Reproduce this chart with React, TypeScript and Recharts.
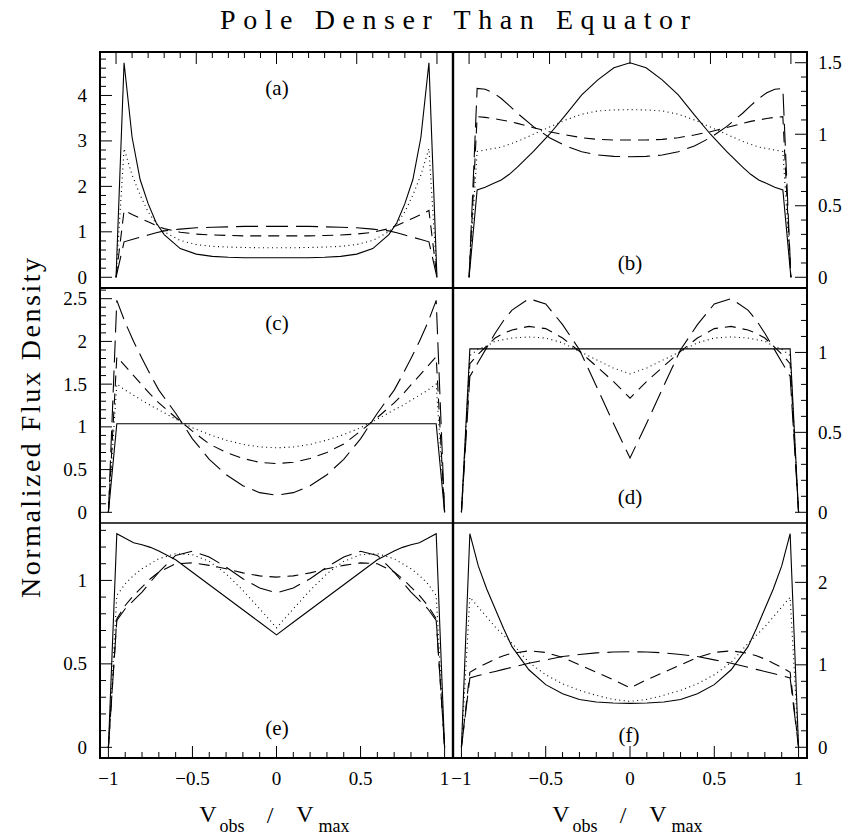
import React from "react";
import { Line, LineChart, XAxis, YAxis } from "recharts";

// velocity grid shared by every panel
const xs = [-1, -0.95, -0.9, -0.85, -0.8, -0.75, -0.7, -0.6, -0.5, -0.4, -0.3, -0.2, -0.1, 0, 0.1, 0.2, 0.3, 0.4, 0.5, 0.6, 0.7, 0.75, 0.8, 0.85, 0.9, 0.95, 1];

// (a)
const aSolid = [0, 4.72, 3.08, 2.15, 1.62, 1.2, 0.94, 0.63, 0.51, 0.46, 0.44, 0.43, 0.43, 0.43, 0.43, 0.43, 0.44, 0.46, 0.51, 0.63, 0.94, 1.2, 1.62, 2.15, 3.08, 4.72, 0];
const aDotted = [0, 2.83, 2.25, 1.81, 1.44, 1.18, 1.0, 0.81, 0.72, 0.68, 0.665, 0.655, 0.65, 0.65, 0.65, 0.655, 0.665, 0.68, 0.72, 0.81, 1.0, 1.18, 1.44, 1.81, 2.25, 2.83, 0];
const aShort = [0, 1.47, 1.38, 1.3, 1.22, 1.14, 1.07, 0.99, 0.95, 0.93, 0.92, 0.91, 0.91, 0.91, 0.91, 0.91, 0.92, 0.93, 0.95, 0.99, 1.07, 1.14, 1.22, 1.3, 1.38, 1.47, 0];
const aLong = [0, 0.78, 0.83, 0.88, 0.93, 0.98, 1.02, 1.06, 1.09, 1.1, 1.11, 1.12, 1.12, 1.12, 1.12, 1.12, 1.11, 1.1, 1.09, 1.06, 1.02, 0.98, 0.93, 0.88, 0.83, 0.78, 0];

// (b)
const bSolid = [0, 0.61, 0.63, 0.655, 0.68, 0.72, 0.77, 0.88, 1.0, 1.135, 1.275, 1.38, 1.465, 1.5, 1.465, 1.38, 1.275, 1.135, 1.0, 0.88, 0.77, 0.72, 0.68, 0.655, 0.63, 0.61, 0];
const bDotted = [0, 0.88, 0.89, 0.9, 0.91, 0.93, 0.95, 1.0, 1.05, 1.1, 1.14, 1.163, 1.17, 1.172, 1.17, 1.163, 1.14, 1.1, 1.05, 1.0, 0.95, 0.93, 0.91, 0.9, 0.89, 0.88, 0];
const bShort = [0, 1.123, 1.118, 1.11, 1.1, 1.09, 1.076, 1.046, 1.018, 0.995, 0.976, 0.964, 0.96, 0.96, 0.96, 0.964, 0.976, 0.995, 1.018, 1.046, 1.076, 1.09, 1.1, 1.11, 1.118, 1.123, 0];
const bLong = [0, 1.32, 1.315, 1.29, 1.25, 1.2, 1.147, 1.053, 0.976, 0.918, 0.878, 0.855, 0.845, 0.843, 0.845, 0.855, 0.878, 0.918, 0.976, 1.053, 1.147, 1.2, 1.25, 1.29, 1.315, 1.32, 0];

// (c)
const cSolid = [0, 1.036, 1.036, 1.036, 1.036, 1.036, 1.036, 1.036, 1.036, 1.036, 1.036, 1.036, 1.036, 1.036, 1.036, 1.036, 1.036, 1.036, 1.036, 1.036, 1.036, 1.036, 1.036, 1.036, 1.036, 1.036, 0];
const cDotted = [0, 1.5, 1.43, 1.37, 1.31, 1.25, 1.2, 1.09, 0.99, 0.91, 0.845, 0.795, 0.765, 0.755, 0.765, 0.795, 0.845, 0.91, 0.99, 1.09, 1.2, 1.25, 1.31, 1.37, 1.43, 1.5, 0];
const cShort = [0, 1.82, 1.71, 1.6, 1.49, 1.38, 1.28, 1.11, 0.95, 0.8, 0.7, 0.63, 0.585, 0.57, 0.585, 0.63, 0.7, 0.8, 0.95, 1.11, 1.28, 1.38, 1.49, 1.6, 1.71, 1.82, 0];
const cLong = [0, 2.48, 2.22, 2.0, 1.8, 1.61, 1.43, 1.16, 0.86, 0.62, 0.44, 0.31, 0.23, 0.2, 0.23, 0.31, 0.44, 0.62, 0.86, 1.16, 1.43, 1.61, 1.8, 2.0, 2.22, 2.48, 0];

// (d)
const dSolid = [0, 1.022, 1.022, 1.022, 1.022, 1.022, 1.022, 1.022, 1.022, 1.022, 1.022, 1.022, 1.022, 1.022, 1.022, 1.022, 1.022, 1.022, 1.022, 1.022, 1.022, 1.022, 1.022, 1.022, 1.022, 1.022, 0];
const dDotted = [0, 0.98, 1.02, 1.04, 1.07, 1.08, 1.09, 1.097, 1.09, 1.06, 1.007, 0.955, 0.903, 0.866, 0.903, 0.955, 1.007, 1.06, 1.09, 1.097, 1.09, 1.08, 1.07, 1.04, 1.02, 0.98, 0];
const dShort = [0, 0.93, 0.99, 1.04, 1.09, 1.12, 1.14, 1.163, 1.149, 1.09, 1.007, 0.914, 0.82, 0.714, 0.82, 0.914, 1.007, 1.09, 1.149, 1.163, 1.14, 1.12, 1.09, 1.04, 0.99, 0.93, 0];
const dLong = [0, 0.85, 0.94, 1.03, 1.12, 1.2, 1.265, 1.336, 1.303, 1.174, 1.017, 0.79, 0.56, 0.34, 0.56, 0.79, 1.017, 1.174, 1.303, 1.336, 1.265, 1.2, 1.12, 1.03, 0.94, 0.85, 0];

// (e)
const eSolid = [0, 1.28, 1.252, 1.226, 1.214, 1.198, 1.176, 1.124, 1.049, 0.974, 0.899, 0.824, 0.749, 0.674, 0.749, 0.824, 0.899, 0.974, 1.049, 1.124, 1.176, 1.198, 1.214, 1.226, 1.252, 1.28, 0];
const eDotted = [0, 0.91, 0.98, 1.03, 1.07, 1.1, 1.13, 1.16, 1.154, 1.114, 1.04, 0.94, 0.83, 0.716, 0.83, 0.94, 1.04, 1.114, 1.154, 1.16, 1.13, 1.1, 1.07, 1.03, 0.98, 0.91, 0];
const eShort = [0, 0.77, 0.85, 0.91, 0.96, 1.01, 1.05, 1.1, 1.105, 1.09, 1.07, 1.045, 1.027, 1.02, 1.027, 1.045, 1.07, 1.09, 1.105, 1.1, 1.05, 1.01, 0.96, 0.91, 0.85, 0.77, 0];
const eLong = [0, 0.76, 0.83, 0.88, 0.93, 0.99, 1.05, 1.15, 1.175, 1.14, 1.08, 1.01, 0.955, 0.925, 0.955, 1.01, 1.08, 1.14, 1.175, 1.15, 1.05, 0.99, 0.93, 0.88, 0.83, 0.76, 0];

// (f)
const fSolid = [0, 2.59, 2.2, 1.92, 1.68, 1.44, 1.22, 0.94, 0.76, 0.65, 0.58, 0.55, 0.537, 0.533, 0.537, 0.55, 0.58, 0.65, 0.76, 0.94, 1.22, 1.44, 1.68, 1.92, 2.2, 2.59, 0];
const fDotted = [0, 1.82, 1.7, 1.58, 1.46, 1.36, 1.26, 1.03, 0.88, 0.77, 0.69, 0.63, 0.58, 0.557, 0.58, 0.63, 0.69, 0.77, 0.88, 1.03, 1.26, 1.36, 1.46, 1.58, 1.7, 1.82, 0];
const fShort = [0, 0.91, 0.97, 1.02, 1.07, 1.11, 1.14, 1.17, 1.15, 1.09, 1.0, 0.91, 0.82, 0.72, 0.82, 0.91, 1.0, 1.09, 1.15, 1.17, 1.14, 1.11, 1.07, 1.02, 0.97, 0.91, 0];
const fLong = [0, 0.84, 0.87, 0.895, 0.92, 0.945, 0.97, 1.02, 1.06, 1.1, 1.125, 1.145, 1.155, 1.158, 1.155, 1.145, 1.125, 1.1, 1.06, 1.02, 0.97, 0.945, 0.92, 0.895, 0.87, 0.84, 0];

// axis ticks
const xMajor = [-1, -0.5, 0, 0.5, 1];
const xMinorStep = 0.1;
const aMajor = [0, 1, 2, 3, 4];
const bMajor = [0, 0.5, 1, 1.5];
const cMajor = [0, 0.5, 1, 1.5, 2, 2.5];
const dMajor = [0, 0.5, 1];
const eMajor = [0, 0.5, 1];
const fMajor = [0, 1, 2];

const FONT = "'Liberation Serif', 'DejaVu Serif', serif";
const COL_X = [100, 453];
const COL_W = [353, 354];
const ROW_Y = [52, 288, 523];
const ROW_H = [236, 235, 235];
const AXIS_W = 60;
const PAD = 24; // room for the "−1" label that hangs over the column seam

const lineStyles = [
  { key: "solid", dash: undefined },
  { key: "dotted", dash: "1 3.5" },
  { key: "short", dash: "11 7" },
  { key: "long", dash: "22 8" },
];

function steps(lo: number, hi: number, step: number) {
  const out: number[] = [];
  for (let v = lo; v <= hi + 1e-9; v += step) out.push(Math.round(v * 1000) / 1000);
  return out;
}

function fmt(v: number) {
  const r = Math.round(v * 100) / 100;
  return r < 0 ? "\u2212" + String(-r) : String(r);
}

const isMajor = (v: number, majors: number[]) => majors.some((m) => Math.abs(m - v) < 1e-6);

function YTick({ x = 0, y = 0, payload, side, majors }: any) {
  const v = payload.value;
  const major = isMajor(v, majors);
  const dir = side === "left" ? 1 : -1;
  return (
    <g>
      <line x1={x} y1={y} x2={x + dir * (major ? 12 : 6)} y2={y} stroke="#000" strokeWidth={1} />
      {major && (
        <text
          x={side === "left" ? x - 13 : x + 11}
          y={y}
          textAnchor={side === "left" ? "end" : "start"}
          dominantBaseline="central"
          fontFamily={FONT}
          fontSize={19}
          fill="#000"
        >
          {fmt(v)}
        </text>
      )}
    </g>
  );
}

function XTick({ x = 0, y = 0, payload, side }: any) {
  const v = payload.value;
  const major = isMajor(v, xMajor);
  const dir = side === "top" ? 1 : -1;
  return (
    <g>
      <line x1={x} y1={y} x2={x} y2={y + dir * (major ? 12 : 6)} stroke="#000" strokeWidth={1} />
      {major && side === "bottom" && (
        <text x={x} y={y + 20} textAnchor="middle" dominantBaseline="central" fontFamily={FONT} fontSize={19} fill="#000">
          {fmt(v)}
        </text>
      )}
    </g>
  );
}

const panels = [
  { id: "a", col: 0, row: 0, series: [aSolid, aDotted, aShort, aLong], xDom: [-1.1, 1.1], yDom: [-0.236, 4.956], majors: aMajor, minor: 0.2, yTop: 4.8, label: [277, 88] },
  { id: "b", col: 1, row: 0, series: [bSolid, bDotted, bShort, bLong], xDom: [-1.1, 1.1], yDom: [-0.075, 1.575], majors: bMajor, minor: 0.1, yTop: 1.5, label: [630, 263] },
  { id: "c", col: 0, row: 1, series: [cSolid, cDotted, cShort, cLong], xDom: [-1.05, 1.05], yDom: [-0.125, 2.625], majors: cMajor, minor: 0.1, yTop: 2.6, label: [277, 323] },
  { id: "d", col: 1, row: 1, series: [dSolid, dDotted, dShort, dLong], xDom: [-1.05, 1.05], yDom: [-0.067, 1.403], majors: dMajor, minor: 0.1, yTop: 1.4, label: [630, 497] },
  { id: "e", col: 0, row: 2, series: [eSolid, eDotted, eShort, eLong], xDom: [-1.05, 1.05], yDom: [-0.064, 1.344], majors: eMajor, minor: 0.1, yTop: 1.3, label: [277, 728] },
  { id: "f", col: 1, row: 2, series: [fSolid, fDotted, fShort, fLong], xDom: [-1.05, 1.05], yDom: [-0.13, 2.72], majors: fMajor, minor: 0.2, yTop: 2.6, label: [629, 735] },
];

const xTicks = steps(-1, 1, xMinorStep);

function Panel({ p }: { p: (typeof panels)[number] }) {
  const rows = xs.map((x, i) => ({
    x,
    solid: p.series[0][i],
    dotted: p.series[1][i],
    short: p.series[2][i],
    long: p.series[3][i],
  }));
  const ySide = p.col === 0 ? "left" : "right";
  const xSide = p.row === 0 ? "top" : "bottom";
  const xH = p.row === 0 ? 20 : p.row === 2 ? 40 : 0;
  const left = p.col === 0 ? COL_X[0] - AXIS_W : COL_X[1] - PAD;
  const top = p.row === 0 ? ROW_Y[0] - xH : ROW_Y[p.row];
  const width = COL_W[p.col] + AXIS_W + (p.col === 1 ? PAD : 0);
  const height = ROW_H[p.row] + xH;
  return (
    <div style={{ position: "absolute", left, top }}>
      <LineChart
        width={width}
        height={height}
        data={rows}
        margin={{ top: 0, right: 0, bottom: 0, left: p.col === 1 ? PAD : 0 }}
      >
        <XAxis
          xAxisId="x"
          type="number"
          dataKey="x"
          domain={p.xDom}
          allowDataOverflow
          ticks={xTicks}
          interval={0}
          orientation={xSide}
          height={xH || 1}
          hide={p.row === 1}
          axisLine={false}
          tickLine={false}
          tickSize={0}
          tickMargin={0}
          tick={(t: any) => <XTick {...t} side={xSide} />}
        />
        <YAxis
          yAxisId="y"
          type="number"
          domain={p.yDom}
          allowDataOverflow
          ticks={steps(0, p.yTop, p.minor)}
          interval={0}
          orientation={ySide}
          width={AXIS_W}
          axisLine={false}
          tickLine={false}
          tickSize={0}
          tickMargin={0}
          tick={(t: any) => <YTick {...t} side={ySide} majors={p.majors} />}
        />
        {lineStyles.map((s) => (
          <Line
            key={s.key}
            xAxisId="x"
            yAxisId="y"
            dataKey={s.key}
            type="linear"
            stroke="#000"
            strokeWidth={1.1}
            strokeDasharray={s.dash}
            dot={false}
            activeDot={false}
            isAnimationActive={false}
          />
        ))}
      </LineChart>
    </div>
  );
}

export default function App() {
  const right = COL_X[1] + COL_W[1];
  const bottom = ROW_Y[2] + ROW_H[2];
  return (
    <div style={{ position: "absolute", left: 0, top: 0, width: 852, height: 837, background: "#fff" }}>
      {panels.map((p) => (
        <Panel key={p.id} p={p} />
      ))}
      <svg width={852} height={837} style={{ position: "absolute", left: 0, top: 0, pointerEvents: "none" }}>
        <rect x={COL_X[0]} y={ROW_Y[0]} width={right - COL_X[0]} height={bottom - ROW_Y[0]} fill="none" stroke="#000" strokeWidth={2} />
        <line x1={COL_X[1]} y1={ROW_Y[0]} x2={COL_X[1]} y2={bottom} stroke="#000" strokeWidth={2.4} />
        <line x1={COL_X[0]} y1={ROW_Y[1]} x2={right} y2={ROW_Y[1]} stroke="#000" strokeWidth={2} />
        <line x1={COL_X[0]} y1={ROW_Y[2]} x2={right} y2={ROW_Y[2]} stroke="#000" strokeWidth={1.6} />
        <g fontFamily={FONT} fill="#000">
          <text x={455} y={19} textAnchor="middle" dominantBaseline="central" fontSize={28} textLength={470} lengthAdjust="spacing">
            Pole Denser Than Equator
          </text>
          <text
            x={30}
            y={428}
            transform="rotate(-90 30 428)"
            textAnchor="middle"
            dominantBaseline="central"
            fontSize={28}
            textLength={340}
            lengthAdjust="spacing"
          >
            Normalized Flux Density
          </text>
          {panels.map((p) => (
            <text key={p.id} x={p.label[0]} y={p.label[1]} textAnchor="middle" dominantBaseline="central" fontSize={21}>
              ({p.id})
            </text>
          ))}
          {[277, 630].map((cx) => (
            <g key={cx} textAnchor="middle">
              <text x={cx - 69} y={814} fontSize={24} dominantBaseline="central">V</text>
              <text x={cx - 45} y={826} fontSize={18} dominantBaseline="central">obs</text>
              <text x={cx - 7} y={815} fontSize={24} dominantBaseline="central">/</text>
              <text x={cx + 28} y={814} fontSize={24} dominantBaseline="central">V</text>
              <text x={cx + 57} y={826} fontSize={18} dominantBaseline="central">max</text>
            </g>
          ))}
        </g>
      </svg>
    </div>
  );
}
